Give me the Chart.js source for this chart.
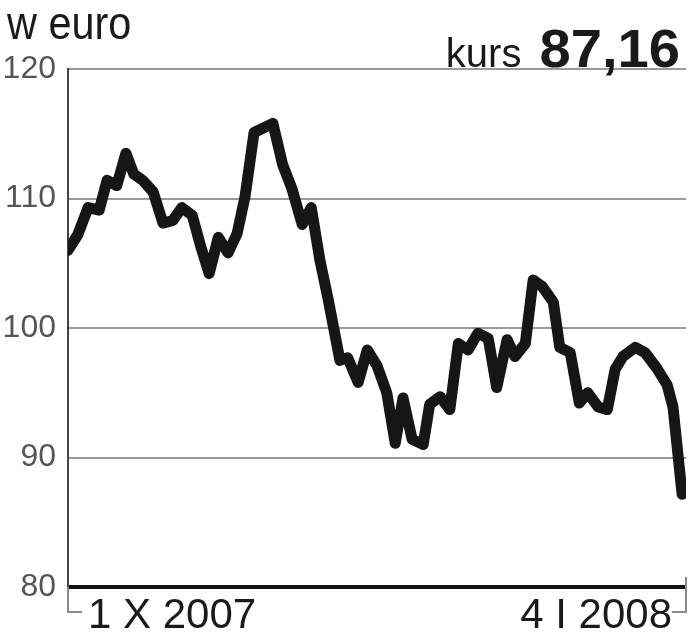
<!DOCTYPE html>
<html>
<head>
<meta charset="utf-8">
<script src="https://cdn.jsdelivr.net/npm/chart.js@4/dist/chart.umd.min.js"></script>
<style>
body { margin: 0; background: #fff; }
</style>
</head>
<body>
<canvas id="chart" width="690" height="640"></canvas>
<script>
// Kurs w euro, 1 X 2007 - 4 I 2008 (x = days since 1 X 2007)
const days = [0, 1.5, 3.1, 4.8, 6.0, 7.5, 8.9, 10.1, 11.5, 13.1,
  14.6, 16.1, 17.5, 19.1, 20.4, 21.7, 23.1, 24.6, 26.0, 27.2,
  28.6, 31.5, 33.0, 34.4, 36.0, 37.4, 38.7, 40.0, 41.8, 43.0,
  44.6, 46.0, 47.5, 49.0, 50.3, 51.5, 52.9, 54.6, 55.6, 57.2,
  58.7, 60.0, 61.5, 63.0, 64.6, 65.9, 67.5, 68.7, 70.3, 71.5,
  72.9, 74.6, 75.6, 77.2, 78.6, 79.9, 81.5, 82.9, 84.1, 85.3,
  87.2, 88.7, 90.5, 92.1, 93.0, 94.4];
const kurs = [106.0, 107.2, 109.3, 109.1, 111.4, 111.0, 113.5, 111.9, 111.4, 110.5,
  108.1, 108.3, 109.3, 108.7, 106.3, 104.2, 107.0, 105.8, 107.3, 110.1,
  115.1, 115.8, 112.6, 110.8, 108.0, 109.3, 105.3, 102.2, 97.5, 97.7,
  95.8, 98.3, 97.1, 95.0, 91.1, 94.6, 91.4, 91.0, 94.1, 94.7,
  93.7, 98.8, 98.3, 99.6, 99.2, 95.4, 99.1, 97.8, 98.8, 103.7,
  103.2, 102.0, 98.5, 98.1, 94.2, 95.0, 93.9, 93.7, 96.8, 97.8,
  98.5, 98.1, 96.9, 95.6, 93.9, 87.16];
const yTicks = [80, 90, 100, 110, 120];
const dateLabels = ['1 X 2007', '4 I 2008'];
const unitLabel = 'w euro';
const lastLabel = 'kurs';
const lastValue = '87,16';

// Draw the header texts, date labels and the small corner marks
const textPlugin = {
  id: 'texts',
  afterDraw(chart) {
    const ctx = chart.ctx;
    const { left, right, top, bottom } = chart.chartArea;
    ctx.save();
    ctx.strokeStyle = '#8a8a8a';
    ctx.lineWidth = 2;
    ctx.beginPath();
    ctx.moveTo(left, bottom);
    ctx.lineTo(left, bottom + 25);
    ctx.lineTo(left + 14, bottom + 25);
    ctx.moveTo(right, bottom - 10);
    ctx.lineTo(right, bottom + 25);
    ctx.lineTo(right - 14, bottom + 25);
    ctx.stroke();

    ctx.fillStyle = '#1a1a1a';
    ctx.textBaseline = 'alphabetic';
    ctx.font = '42px "Liberation Sans"';
    ctx.textAlign = 'left';
    ctx.fillText(dateLabels[0], left + 20, bottom + 41);
    ctx.textAlign = 'right';
    ctx.fillText(dateLabels[1], right - 14, bottom + 41);

    // unit label, a bit condensed
    ctx.save();
    ctx.translate(7, 39);
    ctx.scale(0.9, 1);
    ctx.textAlign = 'left';
    ctx.font = '46px "Liberation Sans"';
    ctx.fillText(unitLabel, 0, 0);
    ctx.restore();

    // kurs 87,16 sits on the top grid line
    ctx.save();
    ctx.translate(right - 6, top - 2);
    ctx.scale(1.06, 1);
    ctx.textAlign = 'right';
    ctx.font = 'bold 53px "Liberation Sans"';
    ctx.fillText(lastValue, 0, 0);
    const w = ctx.measureText(lastValue).width;
    ctx.restore();
    ctx.textAlign = 'right';
    ctx.font = '40px "Liberation Sans"';
    ctx.fillText(lastLabel, right - 6 - w * 1.06 - 18, top - 2);
    ctx.restore();
  }
};

const ctx = document.getElementById('chart').getContext('2d');
const chart = new Chart(ctx, {
  type: 'line',
  data: {
    datasets: [{
      data: days.map((d, i) => ({ x: d, y: kurs[i] })),
      borderColor: '#161616',
      borderWidth: 11,
      borderJoinStyle: 'round',
      borderCapStyle: 'round',
      pointRadius: 0,
      tension: 0
    }]
  },
  options: {
    responsive: false,
    animation: false,
    layout: { padding: { left: 0, right: 4, top: 69, bottom: 53 } },
    plugins: { legend: { display: false }, tooltip: { enabled: false } },
    scales: {
      x: { type: 'linear', min: 0, max: 95, display: false },
      y: {
        min: 80,
        max: 120,
        afterFit: scale => { scale.width = 68; },
        afterBuildTicks: scale => { scale.ticks = yTicks.map(v => ({ value: v })); },
        ticks: {
          color: '#555',
          padding: 12,
          font: { family: 'Liberation Sans', size: 32 }
        },
        grid: {
          drawTicks: false,
          color: c => c.tick && c.tick.value === 80 ? '#111' : '#9a9a9a',
          lineWidth: c => c.tick && c.tick.value === 80 ? 4 : 2
        },
        border: { color: '#444', width: 2 }
      }
    }
  },
  plugins: [textPlugin]
});
</script>
</body>
</html>
